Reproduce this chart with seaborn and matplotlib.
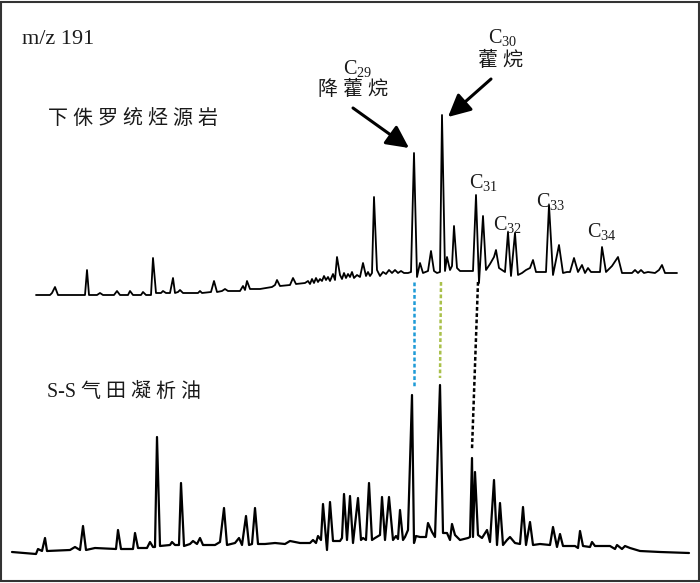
import matplotlib
matplotlib.use("Agg")
import matplotlib.pyplot as plt
import numpy as np
import pandas as pd
import seaborn as sns
from matplotlib.patches import Rectangle

# m/z 191 traces (scan position, relative abundance)
top_scan = [36, 50, 52, 55, 58, 85, 87, 89, 97, 100, 103, 114, 117, 120, 128, 130, 133,
            141, 143, 146, 151, 153, 156, 161, 163, 166, 170, 173, 175, 178, 180, 183,
            198, 200, 202, 211, 214, 217, 222, 225, 228, 240, 243, 245, 247, 250, 260,
            272, 275, 277, 280, 290, 293, 296, 305, 308, 310, 312, 314, 316, 318, 320,
            322, 324, 326, 328, 330, 333, 335, 337, 340, 342, 344, 346, 348, 350, 352,
            354, 357, 360, 363, 366, 368, 370, 372, 374, 377, 380, 383, 386, 389, 392,
            395, 398, 401, 404, 408, 411, 414, 417, 420, 423, 428, 431, 434, 437, 440,
            442, 445, 447, 450, 452, 454, 457, 460, 473, 476, 479, 483, 486, 490, 494,
            496, 499, 502, 505, 508, 511, 515, 518, 522, 526, 530, 533, 536, 546, 549,
            553, 559, 563, 567, 570, 574, 578, 582, 585, 588, 591, 600, 602, 606, 612,
            618, 622, 632, 635, 638, 641, 644, 648, 655, 659, 662, 665, 677]
top_abundance = [5, 5, 7, 13, 5, 5, 30, 5, 5, 7, 5, 5, 9, 5, 5, 9, 5,
                 5, 8, 5, 5, 42, 7, 7, 9, 7, 7, 22, 7, 8, 10, 7,
                 7, 9, 7, 8, 19, 8, 9, 11, 9, 9, 14, 10, 19, 11, 11,
                 13, 15, 20, 14, 15, 22, 16, 17, 19, 16, 21, 17, 22, 18, 21,
                 19, 24, 20, 23, 19, 26, 20, 43, 25, 21, 27, 22, 26, 23, 28,
                 22, 25, 23, 37, 24, 28, 24, 27, 103, 30, 24, 28, 26, 30, 27,
                 30, 27, 29, 27, 27, 28, 147, 23, 37, 27, 29, 49, 29, 27, 28,
                 185, 29, 43, 30, 34, 74, 32, 29, 29, 105, 17, 84, 30, 36, 43,
                 50, 32, 30, 28, 68, 24, 67, 25, 27, 30, 32, 40, 28, 28, 95,
                 25, 55, 27, 28, 28, 42, 28, 35, 27, 32, 28, 28, 53, 28, 34,
                 43, 27, 27, 30, 27, 30, 27, 28, 27, 30, 35, 27, 27]

bottom_scan = [12, 36, 38, 42, 45, 47, 70, 75, 80, 83, 86, 95, 116, 118, 121, 133, 135,
               138, 147, 150, 153, 155, 157, 160, 170, 172, 175, 179, 181, 184, 190, 193,
               197, 200, 203, 215, 220, 224, 227, 235, 239, 242, 246, 249, 252, 255, 258,
               265, 275, 285, 290, 300, 310, 313, 316, 318, 321, 323, 327, 330, 333, 340,
               342, 344, 347, 350, 353, 358, 361, 363, 366, 369, 372, 375, 380, 382, 385,
               389, 393, 396, 398, 400, 403, 405, 408, 412, 414, 416, 420, 426, 428, 432,
               435, 440, 443, 447, 450, 452, 455, 460, 468, 470, 472, 473, 475, 478, 482,
               487, 490, 494, 497, 500, 503, 507, 510, 515, 520, 523, 526, 530, 533, 540,
               550, 553, 557, 560, 563, 575, 578, 580, 583, 590, 592, 595, 610, 615, 617,
               622, 625, 630, 640, 660, 689]
bottom_abundance = [8, 6, 11, 9, 22, 9, 10, 13, 10, 34, 10, 12, 11, 30, 11, 11, 27,
                    12, 12, 18, 13, 13, 123, 14, 15, 18, 15, 15, 77, 14, 16, 19,
                    16, 22, 15, 15, 18, 52, 15, 17, 22, 15, 44, 15, 16, 52, 16,
                    16, 17, 16, 19, 17, 17, 20, 17, 24, 20, 56, 10, 58, 19, 19,
                    22, 66, 20, 64, 17, 62, 20, 22, 20, 77, 20, 22, 25, 63, 20,
                    63, 20, 24, 21, 50, 20, 23, 30, 165, 17, 24, 23, 23, 37, 28,
                    23, 175, 27, 27, 20, 36, 25, 20, 22, 23, 102, 23, 88, 25, 22,
                    30, 18, 80, 15, 57, 15, 20, 23, 17, 16, 53, 15, 38, 15, 16,
                    15, 33, 13, 26, 14, 14, 12, 29, 14, 13, 18, 14, 14, 11, 15,
                    11, 14, 12, 9, 8, 7]

# peak labels
carbon_labels = ["C$_{31}$", "C$_{32}$", "C$_{33}$", "C$_{34}$"]
sample_top = "下 侏 罗 统 烃 源 岩"
sample_bottom = "S-S 气 田 凝 析 油"

sns.set_style("white")
plt.rcParams["font.family"] = ["Liberation Serif", "Noto Sans CJK SC"]
plt.rcParams["mathtext.fontset"] = "custom"
plt.rcParams["mathtext.rm"] = "Liberation Serif"
plt.rcParams["mathtext.it"] = "Liberation Serif"

top_offset = 283
bottom_offset = 23

df_top = pd.DataFrame({"scan": top_scan, "y": np.array(top_abundance) + top_offset})
df_bottom = pd.DataFrame({"scan": bottom_scan, "y": np.array(bottom_abundance) + bottom_offset})

fig = plt.figure(figsize=(7, 5.83), dpi=100)
ax = fig.add_axes([0, 0, 1, 1])
sns.lineplot(data=df_top, x="scan", y="y", ax=ax, color="black", lw=1.3,
             estimator=None, sort=False)
sns.lineplot(data=df_bottom, x="scan", y="y", ax=ax, color="black", lw=1.6,
             estimator=None, sort=False)
ax.set_xlim(0, 700)
ax.set_ylim(0, 583)
ax.set_axis_off()

# dotted connectors between the two traces
ax.plot([414, 414], [301, 195], color="#1e9bd7", lw=1.8, ls=(0, (1.5, 1)))
ax.plot([441, 440], [301, 205], color="#a9c04a", lw=1.8, ls=(0, (1.5, 1)))
ax.plot([478, 472], [301, 134], color="black", lw=1.8, ls=(0, (1.5, 1)))

# arrows to the hopane peaks
arrow = dict(arrowstyle="-|>", lw=2.2, color="black", mutation_scale=34, shrinkA=0, shrinkB=0)
ax.annotate("", xy=(409, 435), xytext=(353, 475), arrowprops=arrow)
ax.annotate("", xy=(448, 466), xytext=(491, 504), arrowprops=arrow)

ax.text(22, 539, "m/z 191", fontsize=16, ha="left", va="baseline", color="#1a1a1a")
ax.text(48, 463, sample_top, fontsize=14.4, ha="left", va="center", color="#1a1a1a")
ax.text(47, 191, sample_bottom, fontsize=14.4, ha="left", va="center", color="#1a1a1a")

ax.text(343, 509, "C$_{29}$", fontsize=14.5, ha="left", va="baseline", color="#1a1a1a")
ax.text(353, 493, "降 藿 烷", fontsize=14.4, ha="center", va="center", color="#1a1a1a")
ax.text(488, 540, "C$_{30}$", fontsize=14.5, ha="left", va="baseline", color="#1a1a1a")
ax.text(500, 522, "藿 烷", fontsize=14.4, ha="center", va="center", color="#1a1a1a")

label_x = [469, 493, 536, 587]
label_y = [395, 353, 376, 346]
for lab, lx, ly in zip(carbon_labels, label_x, label_y):
    ax.text(lx, ly, lab, fontsize=14.5, ha="left", va="baseline", color="#1a1a1a")

fig.patches.append(Rectangle((0.002, 0.003), 0.996, 0.994, transform=fig.transFigure,
                             fill=False, ec="#333333", lw=1.5))

fig.savefig("out.png", dpi=100)
